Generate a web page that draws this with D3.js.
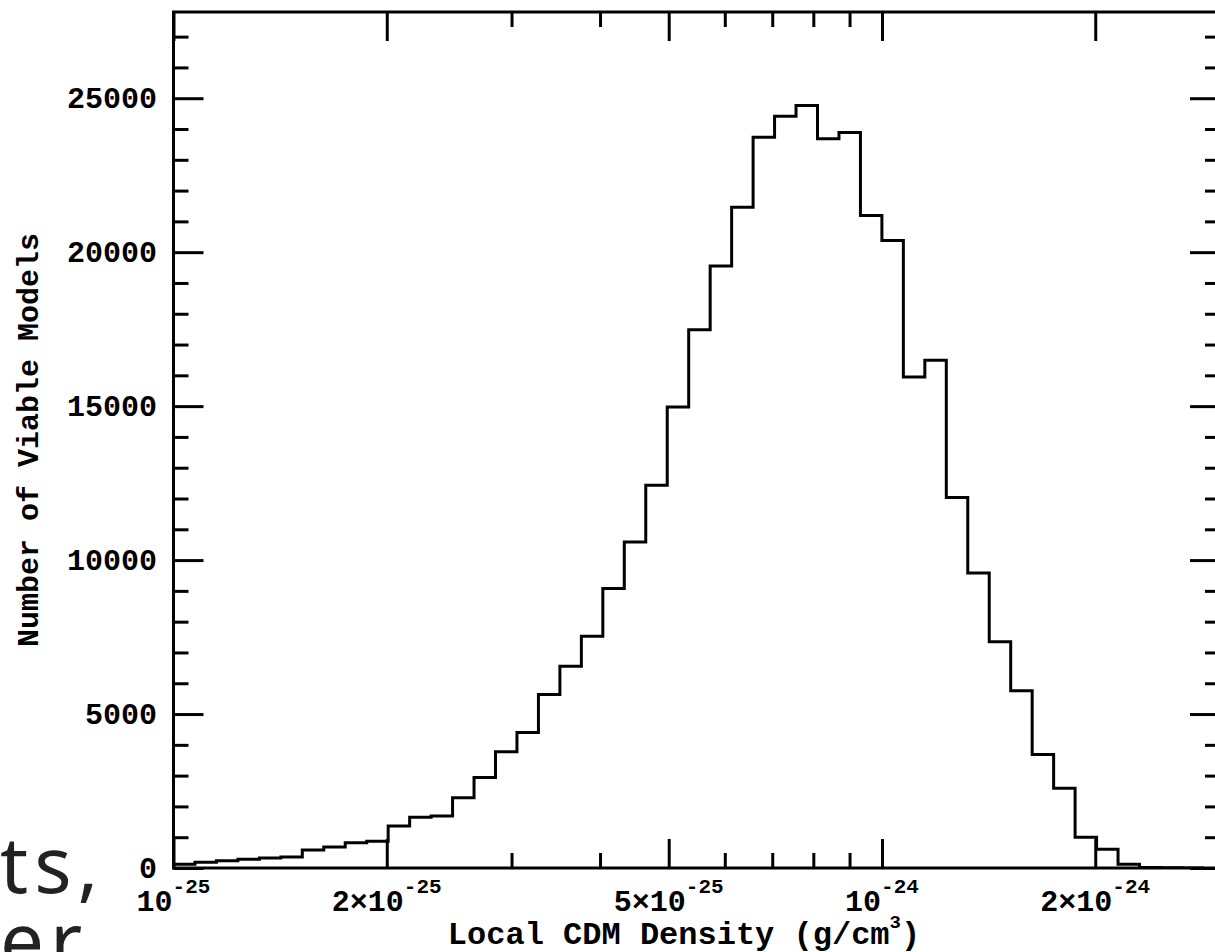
<!DOCTYPE html>
<html>
<head>
<meta charset="utf-8">
<script src="https://cdn.jsdelivr.net/npm/d3@7"></script>
<style>
  html, body { margin: 0; padding: 0; background: #fff; }
  svg { display: block; }
  .lbl { font-family: "Liberation Mono", "DejaVu Sans Mono", monospace; font-weight: bold; fill: #000; }
  .page { font-family: "Noto Sans", "Open Sans", sans-serif; fill: #222; }
</style>
</head>
<body>
<script>
// histogram of local CDM density, log bins
const BIN_LOG_MIN = -25;      // log10 of first bin edge
const BIN_DEX = 0.0303;       // bin width in dex
const counts = [
    120, 185, 237, 282, 325, 357, 584, 682, 822, 866,
    1360, 1645, 1688, 2282, 2943, 3775, 4403, 5637, 6556, 7530,
    9077, 10590, 12430, 14971, 17483, 19548, 21463, 23735, 24416, 24763,
    23682, 23887, 21193, 20382, 15945, 16487, 12031, 9580, 7345, 5755,
    3690, 2586, 995, 606, 120, 15, 5, 0
];

const xMajor = [1e-25, 2e-25, 5e-25, 1e-24, 2e-24];
const xMajorBase = ["10", "2×10", "5×10", "10", "2×10"];
const xMajorExp = ["-25", "-25", "-25", "-24", "-24"];
const xMinor = [3e-25, 4e-25, 6e-25, 7e-25, 8e-25, 9e-25];
const yMajor = [0, 5000, 10000, 15000, 20000, 25000];
const yMinor = d3.range(1000, 28000, 1000).filter(v => v % 5000 !== 0);

const W = 1215, H = 952;
const L = 173.5, R = 1220, T = 12, B = 868;

const x = d3.scaleLog().domain([1e-25, 3e-24]).range([L, R]);
const y = d3.scaleLinear().domain([0, 27800]).range([B, T]);

const svg = d3.select("body").append("svg")
    .attr("width", W).attr("height", H);

svg.append("rect").attr("width", W).attr("height", H).attr("fill", "#fff");

// stray page text from the paper around the figure
svg.append("text").attr("class", "page")
    .attr("x", 0).attr("y", 893).attr("font-size", 78)
    .attr("letter-spacing", 6)
    .text("ts,");
svg.append("text").attr("class", "page")
    .attr("x", 0).attr("y", 969).attr("font-size", 78)
    .attr("letter-spacing", 6)
    .text("er");

svg.append("clipPath").attr("id", "plotclip")
    .append("rect").attr("x", L).attr("y", T).attr("width", R - L).attr("height", B - T);

// ── histogram outline ─────────────────────────────────────────────
const edges = counts.map((c, i) => Math.pow(10, BIN_LOG_MIN + i * BIN_DEX));
const lastEdge = Math.pow(10, BIN_LOG_MIN + counts.length * BIN_DEX);
const pts = [[edges[0], 0]]
    .concat(counts.map((c, i) => [edges[i], c]))
    .concat([[lastEdge, counts[counts.length - 1]], [lastEdge, 0]]);

svg.append("path")
    .attr("clip-path", "url(#plotclip)")
    .attr("d", d3.line().x(d => x(d[0])).y(d => y(d[1])).curve(d3.curveStepAfter)(pts))
    .attr("fill", "none")
    .attr("stroke", "#000")
    .attr("stroke-width", 3)
    .attr("stroke-linejoin", "miter");

// ── ticks (all four sides, pointing inward) ───────────────────────
function ticks(axis, tr) {
    const g = svg.append("g").attr("transform", tr).call(axis);
    g.select(".domain").remove();
    g.selectAll(".tick line").attr("stroke", "#000").attr("stroke-width", 3);
    g.selectAll(".tick text").remove();
}
ticks(d3.axisBottom(x).tickValues(xMajor).tickSize(-29), `translate(0,${B})`);
ticks(d3.axisBottom(x).tickValues(xMinor).tickSize(-15), `translate(0,${B})`);
ticks(d3.axisTop(x).tickValues(xMajor).tickSize(-29), `translate(0,${T})`);
ticks(d3.axisTop(x).tickValues(xMinor).tickSize(-15), `translate(0,${T})`);
ticks(d3.axisLeft(y).tickValues(yMajor).tickSize(-30), `translate(${L},0)`);
ticks(d3.axisLeft(y).tickValues(yMinor).tickSize(-15), `translate(${L},0)`);
ticks(d3.axisRight(y).tickValues(yMajor).tickSize(-30), `translate(${R},0)`);
ticks(d3.axisRight(y).tickValues(yMinor).tickSize(-15), `translate(${R},0)`);

// frame
svg.append("rect")
    .attr("x", L).attr("y", T).attr("width", R - L).attr("height", B - T)
    .attr("fill", "none").attr("stroke", "#000").attr("stroke-width", 3);

// ── tick labels ───────────────────────────────────────────────────
svg.selectAll(".ylab").data(yMajor).join("text")
    .attr("class", "lbl")
    .attr("x", 157).attr("y", d => y(d))
    .attr("dy", "0.34em")
    .attr("text-anchor", "end")
    .attr("font-size", 30)
    .text(d => d);

xMajor.forEach((v, i) => {
    const t = svg.append("text").attr("class", "lbl")
        .attr("x", x(v)).attr("y", 911)
        .attr("text-anchor", "middle")
        .attr("font-size", 30);
    t.append("tspan").text(xMajorBase[i]);
    t.append("tspan").attr("font-size", 21).attr("dy", -18).text(xMajorExp[i]);
});

// ── axis titles ───────────────────────────────────────────────────
const xt = svg.append("text").attr("class", "lbl")
    .attr("x", 684).attr("y", 944)
    .attr("text-anchor", "middle")
    .attr("font-size", 32);
xt.append("tspan").text("Local CDM Density (g/cm");
xt.append("tspan").attr("font-size", 19).attr("dy", -16).text("3");
xt.append("tspan").attr("dy", 16).text(")");

svg.append("text").attr("class", "lbl")
    .attr("transform", "translate(38,440) rotate(-90)")
    .attr("text-anchor", "middle")
    .attr("font-size", 30)
    .text("Number of Viable Models");
</script>
</body>
</html>
